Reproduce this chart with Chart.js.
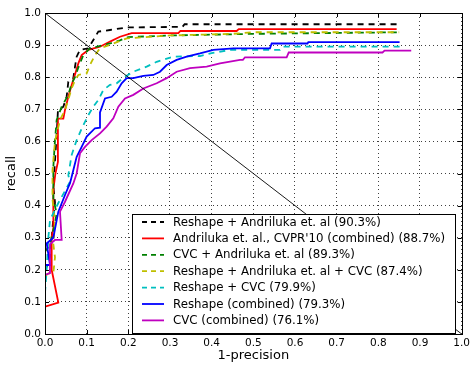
<!DOCTYPE html>
<html>
<head>
<meta charset="utf-8">
<script src="https://cdn.jsdelivr.net/npm/chart.js@4/dist/chart.umd.min.js"></script>
<style>
  html, body { margin: 0; padding: 0; background: #fff; }
  #wrap { width: 473px; height: 365px; }
</style>
</head>
<body>
<div id="wrap"><canvas id="c" width="473" height="365"></canvas></div>
<script>
// ---- data (x = 1-precision, y = recall) ----
const tickValues = [0, 0.1, 0.2, 0.3, 0.4, 0.5, 0.6, 0.7, 0.8, 0.9, 1.0];
const seriesLabels = [
  "Reshape + Andriluka et. al (90.3%)",
  "Andriluka et. al., CVPR'10 (combined) (88.7%)",
  "CVC + Andriluka et. al (89.3%)",
  "Reshape + Andriluka et. al + CVC (87.4%)",
  "Reshape + CVC (79.9%)",
  "Reshape (combined) (79.3%)",
  "CVC (combined) (76.1%)"
];
const reshapeAndriluka = [[0,0.2],[0.008,0.22],[0.012,0.24],[0.016,0.3],[0.02,0.36],[0.024,0.41],[0.02,0.46],[0.024,0.54],[0.028,0.62],[0.031,0.695],[0.044,0.708],[0.052,0.74],[0.056,0.786],[0.068,0.797],[0.072,0.833],[0.076,0.864],[0.084,0.885],[0.104,0.89],[0.116,0.916],[0.128,0.942],[0.156,0.947],[0.196,0.955],[0.33,0.957],[0.335,0.965],[0.844,0.965]];
const andrilukaCvpr = [[0,0.085],[0.032,0.098],[0.016,0.2],[0.016,0.3],[0.02,0.33],[0.02,0.45],[0.025,0.5],[0.031,0.536],[0.031,0.671],[0.044,0.671],[0.048,0.698],[0.056,0.739],[0.064,0.776],[0.07,0.8],[0.08,0.843],[0.088,0.869],[0.104,0.885],[0.132,0.895],[0.156,0.911],[0.18,0.926],[0.208,0.937],[0.32,0.937],[0.325,0.944],[0.46,0.944],[0.465,0.95],[0.844,0.95]];
const cvcAndriluka = [[0,0.256],[0.012,0.28],[0.024,0.345],[0.028,0.376],[0.02,0.42],[0.02,0.52],[0.024,0.604],[0.028,0.667],[0.04,0.708],[0.056,0.745],[0.064,0.78],[0.072,0.8],[0.08,0.83],[0.092,0.869],[0.104,0.885],[0.108,0.89],[0.156,0.905],[0.18,0.915],[0.2,0.925],[0.3,0.93],[0.5,0.935],[0.85,0.94]];
const reshapeAndrilukaCvc = [[0,0.18],[0.008,0.189],[0.02,0.19],[0.024,0.239],[0.02,0.28],[0.024,0.345],[0.018,0.42],[0.018,0.51],[0.024,0.6],[0.036,0.667],[0.048,0.698],[0.056,0.73],[0.064,0.765],[0.072,0.79],[0.08,0.807],[0.1,0.812],[0.108,0.838],[0.12,0.869],[0.132,0.89],[0.164,0.905],[0.196,0.921],[0.3,0.93],[0.45,0.935],[0.5,0.94],[0.85,0.94]];
const reshapeCvc = [[0,0.128],[0.004,0.2],[0.008,0.3],[0.012,0.355],[0.032,0.408],[0.06,0.474],[0.056,0.495],[0.064,0.558],[0.076,0.604],[0.088,0.64],[0.104,0.682],[0.116,0.708],[0.128,0.729],[0.14,0.76],[0.156,0.776],[0.172,0.781],[0.19,0.8],[0.212,0.817],[0.244,0.833],[0.268,0.848],[0.308,0.864],[0.372,0.866],[0.4,0.875],[0.444,0.885],[0.564,0.885],[0.57,0.895],[0.863,0.895]];
const reshapeCombined = [[0,0.215],[0.012,0.215],[0.004,0.282],[0.02,0.3],[0.032,0.381],[0.048,0.433],[0.06,0.47],[0.064,0.49],[0.076,0.552],[0.088,0.583],[0.1,0.615],[0.12,0.641],[0.132,0.643],[0.132,0.69],[0.144,0.734],[0.16,0.739],[0.172,0.755],[0.184,0.781],[0.196,0.797],[0.212,0.797],[0.236,0.804],[0.26,0.807],[0.276,0.817],[0.292,0.838],[0.316,0.854],[0.34,0.864],[0.372,0.874],[0.404,0.885],[0.452,0.89],[0.54,0.89],[0.544,0.905],[0.63,0.905],[0.632,0.909],[0.851,0.909]];
const cvcCombined = [[0,0.184],[0.012,0.19],[0.012,0.28],[0.024,0.293],[0.04,0.293],[0.036,0.381],[0.048,0.412],[0.068,0.469],[0.076,0.5],[0.084,0.563],[0.096,0.583],[0.112,0.604],[0.132,0.625],[0.148,0.646],[0.164,0.672],[0.176,0.708],[0.192,0.734],[0.212,0.745],[0.236,0.765],[0.268,0.781],[0.292,0.797],[0.316,0.817],[0.348,0.828],[0.388,0.833],[0.42,0.843],[0.468,0.854],[0.475,0.854],[0.48,0.862],[0.58,0.862],[0.585,0.877],[0.81,0.877],[0.815,0.883],[0.879,0.883]];
const diagonal = [[0,1],[1,0]];

const seriesData = [reshapeAndriluka, andrilukaCvpr, cvcAndriluka, reshapeAndrilukaCvc, reshapeCvc, reshapeCombined, cvcCombined];
const seriesColors = ['#000000', '#ff0000', '#008000', '#bfbf00', '#00bfbf', '#0000ff', '#bf00bf'];
const seriesDashed = [true, false, true, true, true, false, false];

const toXY = arr => arr.map(p => ({x: p[0], y: p[1]}));

const datasets = seriesData.map((d, i) => ({
  label: seriesLabels[i],
  data: toXY(d),
  showLine: true,
  borderColor: seriesColors[i],
  backgroundColor: seriesColors[i],
  borderWidth: 1.8,
  borderDash: seriesDashed[i] ? [6, 5] : [],
  pointRadius: 0,
  tension: 0,
  fill: false,
  order: 20 - i
}));
datasets.push({
  label: 'diagonal',
  data: toXY(diagonal),
  showLine: true,
  borderColor: '#000000',
  borderWidth: 0.9,
  pointRadius: 0,
  fill: false,
  order: 0
});

const framePlugin = {
  id: 'frame',
  afterDatasetsDraw(chart) {
    const {ctx, chartArea: a, scales} = chart;
    ctx.save();
    ctx.setLineDash([]);
    ctx.strokeStyle = '#000';
    ctx.lineWidth = 1;
    // inward ticks
    tickValues.forEach(v => {
      const px = Math.round(scales.x.getPixelForValue(v)) + 0.5;
      const py = Math.round(scales.y.getPixelForValue(v)) + 0.5;
      ctx.beginPath();
      ctx.moveTo(px, a.bottom); ctx.lineTo(px, a.bottom - 4);
      ctx.moveTo(px, a.top); ctx.lineTo(px, a.top + 4);
      ctx.moveTo(a.left, py); ctx.lineTo(a.left + 4, py);
      ctx.moveTo(a.right, py); ctx.lineTo(a.right - 4, py);
      ctx.stroke();
    });
    ctx.strokeRect(Math.round(a.left) + 0.5, Math.round(a.top) + 0.5,
      Math.round(a.right - a.left), Math.round(a.bottom - a.top));

    // legend box
    const bx = 132.5, by = 214.5, bw = 323, bh = 119;
    ctx.fillStyle = '#fff';
    ctx.fillRect(bx, by, bw, bh);
    ctx.strokeRect(bx, by, bw, bh);
    ctx.font = '11.8px "DejaVu Sans"';
    ctx.textBaseline = 'middle';
    ctx.textAlign = 'left';
    seriesLabels.forEach((lab, i) => {
      const y = 222 + i * 16.4;
      ctx.beginPath();
      ctx.strokeStyle = seriesColors[i];
      ctx.lineWidth = 1.8;
      ctx.setLineDash(seriesDashed[i] ? [5, 4] : []);
      ctx.moveTo(142, y); ctx.lineTo(164, y);
      ctx.stroke();
      ctx.setLineDash([]);
      ctx.fillStyle = '#000';
      ctx.fillText(lab, 173, y + 0.5);
    });
    ctx.restore();
  }
};

new Chart(document.getElementById('c'), {
  type: 'scatter',
  data: { datasets },
  options: {
    responsive: false,
    animation: false,
    devicePixelRatio: 1,
    layout: { padding: { top: 13, right: 11, left: 0, bottom: 0 } },
    plugins: { legend: { display: false }, tooltip: { enabled: false } },
    scales: {
      x: {
        type: 'linear', min: 0, max: 1,
        afterFit: s => { s.height = 31; },
        afterBuildTicks: s => { s.ticks = tickValues.map(v => ({value: v})); },
        ticks: { color: '#000', font: { family: 'DejaVu Sans', size: 10.5 }, padding: 3,
                 maxRotation: 0, autoSkip: false, callback: v => v.toFixed(1) },
        grid: { color: 'rgba(0,0,0,0.75)', lineWidth: 1, drawTicks: false },
        border: { display: false, dash: [1, 3] },
        title: { display: true, text: '1-precision', color: '#000',
                 font: { family: 'DejaVu Sans', size: 13 }, padding: { top: 0, bottom: 2 } }
      },
      y: {
        type: 'linear', min: 0, max: 1,
        afterFit: s => { s.width = 45; },
        afterBuildTicks: s => { s.ticks = tickValues.map(v => ({value: v})); },
        ticks: { color: '#000', font: { family: 'DejaVu Sans', size: 10.5 }, padding: 4,
                 autoSkip: false, callback: v => v.toFixed(1) },
        grid: { color: 'rgba(0,0,0,0.75)', lineWidth: 1, drawTicks: false },
        border: { display: false, dash: [1, 3] },
        title: { display: true, text: 'recall', color: '#000',
                 font: { family: 'DejaVu Sans', size: 13 }, padding: { top: 4, bottom: 0 } }
      }
    }
  },
  plugins: [framePlugin]
});
</script>
</body>
</html>
